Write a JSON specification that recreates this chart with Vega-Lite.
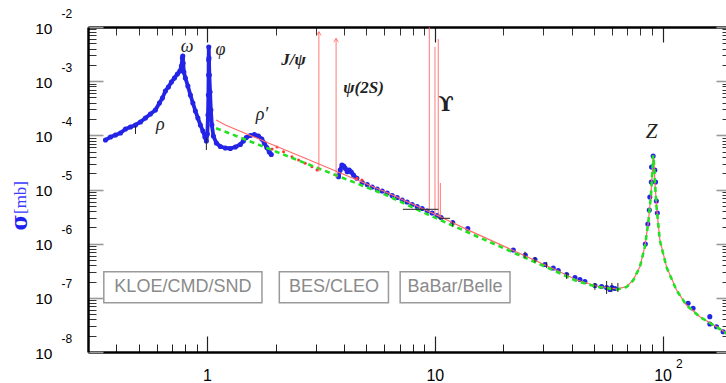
{
"$schema": "https://vega.github.io/schema/vega-lite/v6.json",
"width": 638, "height": 325,
"autosize": {"type": "none"},
"padding": {"left": 88, "top": 27, "right": 0, "bottom": 31},
"background": "white",
"config": {"view": {"stroke": null}, "axis": {"grid": false, "labelOverlap": false, "labelFlush": false}},
"datasets": {
"fit": [
{"E":1.095,"s":1.919e-4},{"E":1.203,"s":1.552e-4},{"E":1.802,"s":7.63e-5},{"E":2.698,"s":3.77e-5},{"E":4.043,"s":1.853e-5},{"E":6.053,"s":9.11e-6},{"E":9.537,"s":3.84e-6},{"E":14.28,"s":1.72e-6},{"E":22.12,"s":7.48e-7},{"E":34.28,"s":3.24e-7},{"E":41.96,"s":2.135e-7},{"E":51.34,"s":1.655e-7},{"E":62.84,"s":1.457e-7},{"E":69.53,"s":1.606e-7},{"E":74.31,"s":2.135e-7},{"E":79.51,"s":3.76e-7},{"E":83.62,"s":8.8e-7},{"E":86.48,"s":2.38e-6},{"E":88.86,"s":7.37e-6},{"E":90.22,"s":2.1e-5},{"E":90.95,"s":4.34e-5},{"E":91.88,"s":2.84e-5},{"E":92.52,"s":1.5e-5},{"E":94.13,"s":4.82e-6},{"E":97.32,"s":1.169e-6},{"E":104.1,"s":3.76e-7},{"E":115.2,"s":1.396e-7},{"E":127.4,"s":7.38e-8},{"E":145.8,"s":4.49e-8},{"E":172.6,"s":2.93e-8},{"E":199.3,"s":1.98e-8}],
"naive": [
{"E":1.095,"s":1.349e-4},{"E":1.203,"s":1.167e-4},{"E":1.802,"s":5.99e-5},{"E":2.698,"s":3.07e-5},{"E":4.043,"s":1.57e-5},{"E":6.053,"s":8.05e-6},{"E":9.537,"s":3.31e-6},{"E":14.28,"s":1.554e-6},{"E":22.12,"s":6.87e-7},{"E":34.28,"s":3.03e-7},{"E":41.96,"s":2.05e-7},{"E":51.34,"s":1.6e-7},{"E":62.84,"s":1.42e-7},{"E":69.53,"s":1.58e-7},{"E":74.31,"s":2.1e-7},{"E":79.51,"s":3.7e-7},{"E":83.62,"s":8.7e-7},{"E":86.48,"s":2.35e-6},{"E":88.86,"s":7.3e-6},{"E":90.22,"s":2.08e-5},{"E":90.95,"s":4.3e-5},{"E":91.88,"s":2.8e-5},{"E":92.52,"s":1.48e-5},{"E":94.13,"s":4.75e-6},{"E":97.32,"s":1.15e-6},{"E":104.1,"s":3.7e-7},{"E":115.2,"s":1.38e-7},{"E":127.4,"s":7.3e-8},{"E":145.8,"s":4.45e-8},{"E":172.6,"s":2.9e-8},{"E":199.3,"s":1.96e-8}],
"reddots": [
{"E":1.93,"s":5.6e-5},{"E":2.028,"s":6.09e-5},{"E":2.167,"s":4.99e-5},{"E":2.36,"s":4.03e-5},{"E":2.522,"s":3.51e-5},{"E":2.698,"s":3.05e-5},{"E":2.887,"s":2.64e-5},{"E":3.038,"s":2.29e-5},{"E":4.549,"s":1.61e-5},{"E":4.784,"s":1.5e-5}],
"blue": [
{"E":0.358,"s":8.2e-5,"seg":"lo"},{"E":0.3765,"s":9.32e-5,"seg":"lo"},{"E":0.396,"s":1.015e-4,"seg":"lo"},{"E":0.4167,"s":1.104e-4,"seg":"lo"},{"E":0.4383,"s":1.31e-4,"seg":"lo"},{"E":0.4609,"s":1.426e-4,"seg":"lo"},{"E":0.4849,"s":1.552e-4,"seg":"lo"},{"E":0.5099,"s":1.763e-4,"seg":"lo"},{"E":0.5362,"s":2.09e-4,"seg":"lo"},{"E":0.564,"s":2.477e-4,"seg":"lo"},{"E":0.5932,"s":2.936e-4,"seg":"lo"},{"E":0.6177,"s":3.954e-4,"seg":"lo"},{"E":0.6366,"s":4.89e-4,"seg":"lo"},{"E":0.6562,"s":6.59e-4,"seg":"lo"},{"E":0.6764,"s":7.81e-4,"seg":"lo"},{"E":0.6972,"s":9.65e-4,"seg":"lo"},{"E":0.719,"s":1.145e-3,"seg":"lo"},{"E":0.7409,"s":1.357e-3,"seg":"lo"},{"E":0.7598,"s":1.541e-3,"seg":"lo"},{"E":0.7715,"s":1.906e-3,"seg":"lo"},{"E":0.7792,"s":2.677e-3,"seg":"lo"},{"E":0.7823,"s":2.915e-3,"seg":"lo"},{"E":0.7854,"s":2.165e-3,"seg":"lo"},{"E":0.791,"s":1.477e-3,"seg":"lo"},{"E":0.803,"s":1.145e-3,"seg":"lo"},{"E":0.8237,"s":8.14e-4,"seg":"lo"},{"E":0.8448,"s":5.56e-4,"seg":"lo"},{"E":0.8664,"s":3.954e-4,"seg":"lo"},{"E":0.8886,"s":2.815e-4,"seg":"lo"},{"E":0.9113,"s":2.09e-4,"seg":"lo"},{"E":0.9346,"s":1.552e-4,"seg":"lo"},{"E":0.9585,"s":1.203e-4,"seg":"lo"},{"E":0.978,"s":9.32e-5,"seg":"lo"},{"E":0.9929,"s":7.86e-5,"seg":"lo"},{"E":1.003,"s":1.059e-4,"seg":"lo"},{"E":1.0091,"s":2.374e-4,"seg":"lo"},{"E":1.0132,"s":5.56e-4,"seg":"lo"},{"E":1.0153,"s":1.3e-3,"seg":"lo"},{"E":1.0163,"s":2.459e-3,"seg":"lo"},{"E":1.0173,"s":4.27e-3,"seg":"lo"},{"E":1.0194,"s":2.677e-3,"seg":"lo"},{"E":1.0235,"s":1.3e-3,"seg":"lo"},{"E":1.0308,"s":6.31e-4,"seg":"lo"},{"E":1.0391,"s":2.936e-4,"seg":"lo"},{"E":1.0497,"s":1.552e-4,"seg":"lo"},{"E":1.0657,"s":9.72e-5,"seg":"lo"},{"E":1.0985,"s":7.22e-5,"seg":"lo"},{"E":1.1437,"s":6.22e-5,"seg":"lo"},{"E":1.203,"s":5.84e-5,"seg":"lo"},{"E":1.2653,"s":5.72e-5,"seg":"lo"},{"E":1.3309,"s":6.09e-5,"seg":"lo"},{"E":1.3997,"s":6.78e-5,"seg":"lo"},{"E":1.443,"s":7.86e-5,"seg":"lo"},{"E":1.487,"s":9.12e-5,"seg":"lo"},{"E":1.5486,"s":9.93e-5,"seg":"lo"},{"E":1.6125,"s":1.036e-4,"seg":"lo"},{"E":1.679,"s":9.72e-5,"seg":"lo"},{"E":1.7395,"s":8.56e-5,"seg":"lo"},{"E":1.7836,"s":7.22e-5,"seg":"lo"},{"E":1.829,"s":5.97e-5,"seg":"lo"},{"E":1.8757,"s":4.93e-5,"seg":"lo"},{"E":1.9143,"s":4.43e-5,"seg":"lo"},
{"E":3.778,"s":1.724e-5,"seg":"psi"},{"E":3.843,"s":2.29e-5,"seg":"psi"},{"E":3.91,"s":2.84e-5,"seg":"psi"},{"E":3.981,"s":2.72e-5,"seg":"psi"},{"E":4.043,"s":2.46e-5,"seg":"psi"},{"E":4.125,"s":2.13e-5,"seg":"psi"},{"E":4.209,"s":2.29e-5,"seg":"psi"},{"E":4.295,"s":2.105e-5,"seg":"psi"},{"E":4.395,"s":1.853e-5,"seg":"psi"},{"E":4.549,"s":1.61e-5,"seg":"psi"},
{"E":4.799,"s":1.347e-5,"seg":"hi"},{"E":5.048,"s":1.238e-5,"seg":"hi"},{"E":5.309,"s":1.113e-5,"seg":"hi"},{"E":5.583,"s":1.022e-5,"seg":"hi"},{"E":5.873,"s":9.39e-6,"seg":"hi"},{"E":6.177,"s":8.62e-6,"seg":"hi"},{"E":6.496,"s":7.75e-6,"seg":"hi"},{"E":6.834,"s":7.12e-6,"seg":"hi"},{"E":7.188,"s":6.4e-6,"seg":"hi"},{"E":7.557,"s":5.88e-6,"seg":"hi"},{"E":7.952,"s":5.29e-6,"seg":"hi"},{"E":8.364,"s":4.86e-6,"seg":"hi"},{"E":8.797,"s":4.46e-6,"seg":"hi"},{"E":9.253,"s":4.01e-6,"seg":"hi"},{"E":9.732,"s":3.68e-6,"seg":"hi"},{"E":10.23,"s":3.31e-6,"seg":"hi"},{"E":10.66,"s":3.04e-6,"seg":"hi"},{"E":11.99,"s":2.46e-6,"seg":"hi"},{"E":13.96,"s":1.907e-6,"seg":"hi"},{"E":22.12,"s":7.64e-7,"seg":"hi"},{"E":24.97,"s":6.18e-7,"seg":"hi"},{"E":27.54,"s":5.11e-7,"seg":"hi"},{"E":30.46,"s":4.13e-7,"seg":"hi"},{"E":33.13,"s":3.56e-7,"seg":"hi"},{"E":34.84,"s":3.2e-7,"seg":"hi"},{"E":37.93,"s":2.7e-7,"seg":"hi"},{"E":41.26,"s":2.375e-7,"seg":"hi"},{"E":43.39,"s":2.18e-7,"seg":"hi"},{"E":45.62,"s":2.0e-7,"seg":"hi"},{"E":50.48,"s":1.69e-7,"seg":"hi"},{"E":54.01,"s":1.62e-7,"seg":"hi"},{"E":56.81,"s":1.553e-7,"seg":"hi"},{"E":58.74,"s":1.426e-7,"seg":"hi"},{"E":59.93,"s":1.553e-7,"seg":"hi"},{"E":61.77,"s":1.488e-7,"seg":"hi"},
{"E":84.05,"s":9.87e-7,"seg":"hi"},{"E":86.19,"s":2.31e-6,"seg":"hi"},{"E":87.5,"s":4.19e-6,"seg":"hi"},{"E":87.94,"s":7.27e-6,"seg":"hi"},{"E":89.29,"s":1.377e-5,"seg":"hi"},{"E":89.47,"s":2.6e-5,"seg":"hi"},{"E":90.96,"s":4.16e-5,"seg":"hi"},{"E":92.52,"s":2.29e-5,"seg":"hi"},{"E":93.19,"s":1.377e-5,"seg":"hi"},{"E":93.94,"s":6.14e-6,"seg":"hi"},{"E":94.89,"s":3.68e-6,"seg":"hi"},{"E":129.5,"s":7.93e-8,"seg":"hi"},{"E":136.2,"s":6.41e-8,"seg":"hi"},{"E":161.3,"s":4.49e-8,"seg":"hi"},{"E":161.3,"s":3.29e-8,"seg":"hi"},{"E":172.6,"s":2.93e-8,"seg":"hi"},{"E":184.5,"s":2.37e-8,"seg":"hi"}],
"res": [
{"name":"J/psi","E":3.097,"top":8.19e-3,"bottom":2.13e-5},
{"name":"psi2S","E":3.686,"top":6.18e-3,"bottom":1.63e-5},
{"name":"Y1S","E":9.46,"top":1e-2,"bottom":4.19e-6},
{"name":"Y2S","E":10.02,"top":4.33e-3,"bottom":3.68e-6},
{"name":"Y3S","E":10.355,"top":6.0e-3,"bottom":3.24e-6},
{"name":"Y4S","E":10.58,"top":1.32e-5,"bottom":3.0e-6}],
"xerr": [{"E1":7.24,"E2":10.37,"s":4.31e-6},{"E1":10.37,"E2":11.67,"s":2.94e-6}],
"yerr": [
{"E":0.4849,"s1":1.49e-4,"s2":1.06e-4},{"E":0.993,"s1":8.93e-5,"s2":5.36e-5},{"E":11.99,"s1":2.55e-6,"s2":2.06e-6},{"E":24.89,"s1":7.11e-7,"s2":5.37e-7},{"E":27.54,"s1":5.68e-7,"s2":4.49e-7},{"E":30.98,"s1":4.59e-7,"s2":3.56e-7},{"E":37.93,"s1":2.88e-7,"s2":2.23e-7},{"E":50.48,"s1":1.88e-7,"s2":1.4e-7},{"E":56.81,"s1":2.05e-7,"s2":1.18e-7},{"E":59.93,"s1":1.88e-7,"s2":1.28e-7},{"E":63.68,"s1":1.88e-7,"s2":1.28e-7}],
"labels": [
{"E":0.624,"s":1.552e-4,"t":"ρ"},{"E":0.817,"s":4.33e-3,"t":"ω"},{"E":1.144,"s":3.76e-3,"t":"φ"},{"E":1.742,"s":2.37e-4,"t":"ρ′"},{"E":2.398,"s":2.46e-3,"t":"J/ψ"},{"E":4.862,"s":7.38e-4,"t":"ψ(2S)"},{"E":11.21,"s":3.63e-4,"t":"ϒ"},{"E":89.47,"s":1.167e-4,"t":"Z"}],
"boxes": [
{"E1":0.352,"E2":1.742,"s1":3.04e-7,"s2":8.14e-8,"Ec":0.783,"sc":1.585e-7,"t":"KLOE/CMD/SND"},
{"E1":2.076,"E2":6.259,"s1":3.04e-7,"s2":8.14e-8,"Ec":3.606,"sc":1.585e-7,"t":"BES/CLEO"},
{"E1":7.044,"E2":21.39,"s1":3.04e-7,"s2":8.14e-8,"Ec":12.27,"sc":1.585e-7,"t":"BaBar/Belle"}]
},
"resolve": {"scale": {"x": "shared", "y": "shared"}, "axis": {"x": "independent", "y": "independent"}},
"layer": [
{"data": {"name": "blue"}, "transform": [{"filter": "datum.seg != 'hi'"}],
 "mark": {"type": "line", "color": "#2424e6", "strokeWidth": 3.8, "strokeCap": "round", "strokeJoin": "round", "clip": true},
 "encoding": {
  "x": {"field": "E", "type": "quantitative", "scale": {"type": "log", "domain": [0.3, 190], "nice": false},
        "axis": {"orient": "bottom", "offset": -16, "values": [1, 10, 100], "labels": false, "tickSize": 16, "tickColor": "#222", "tickWidth": 1.2, "domain": false, "title": null}},
  "y": {"field": "s", "type": "quantitative", "scale": {"type": "log", "domain": [1e-8, 1e-2], "nice": false},
        "axis": {"orient": "left", "offset": -15, "values": [1e-8, 1e-7, 1e-6, 1e-5, 1e-4, 1e-3, 1e-2], "labels": false, "tickSize": 15, "tickColor": "#999", "tickWidth": 1.6, "domain": false, "title": null}},
  "detail": {"field": "seg"}}},
{"data": {"name": "blue"},
 "mark": {"type": "point", "filled": true, "color": "#2424e6", "size": 26, "opacity": 1, "clip": true},
 "encoding": {
  "x": {"field": "E", "type": "quantitative", "scale": {"type": "log", "domain": [0.3, 190], "nice": false},
        "axis": {"orient": "bottom", "offset": -8, "values": [0.4,0.5,0.6,0.7,0.8,0.9,2,3,4,5,6,7,8,9,20,30,40,50,60,70,80,90], "labels": false, "tickSize": 8, "tickColor": "#222", "tickWidth": 1, "domain": false, "title": null}},
  "y": {"field": "s", "type": "quantitative", "scale": {"type": "log", "domain": [1e-8, 1e-2], "nice": false},
        "axis": {"orient": "left", "offset": -8, "values": [2e-8,3e-8,4e-8,5e-8,6e-8,7e-8,8e-8,9e-8,2e-7,3e-7,4e-7,5e-7,6e-7,7e-7,8e-7,9e-7,2e-6,3e-6,4e-6,5e-6,6e-6,7e-6,8e-6,9e-6,2e-5,3e-5,4e-5,5e-5,6e-5,7e-5,8e-5,9e-5,2e-4,3e-4,4e-4,5e-4,6e-4,7e-4,8e-4,9e-4,2e-3,3e-3,4e-3,5e-3,6e-3,7e-3,8e-3,9e-3], "labels": false, "tickSize": 8, "tickColor": "#333", "tickWidth": 1, "domain": false, "title": null}}}},
{"data": {"name": "reddots"},
 "mark": {"type": "point", "filled": true, "color": "#ff3030", "size": 9, "opacity": 1},
 "encoding": {
  "x": {"field": "E", "type": "quantitative", "scale": {"type": "log", "domain": [0.3, 190], "nice": false},
        "axis": {"orient": "bottom", "values": [1, 10, 100], "labelExpr": "datum.value >= 10 ? '10' : '1'", "ticks": false, "domain": true, "domainColor": "#000", "domainWidth": 2.5, "labelPadding": 15, "labelFont": "Liberation Sans", "labelFontSize": 16, "labelColor": "#000", "title": null}},
  "y": {"field": "s", "type": "quantitative", "scale": {"type": "log", "domain": [1e-8, 1e-2], "nice": false},
        "axis": {"orient": "left", "values": [1e-8, 1e-7, 1e-6, 1e-5, 1e-4, 1e-3, 1e-2], "labelExpr": "'10'", "ticks": false, "domain": true, "domainColor": "#000", "domainWidth": 2.5, "labelPadding": 36, "labelOffset": 1, "labelFont": "Liberation Sans", "labelFontSize": 15.5, "labelColor": "#000", "labelBaseline": "middle",
                 "title": "[mb]", "titleFont": "Liberation Serif", "titleFontSize": 17, "titleFontWeight": "normal", "titleColor": "#3b3bff", "titleAngle": 270, "titleX": -68, "titleY": 170, "titleAlign": "center", "titleBaseline": "middle"}}}},
{"data": {"name": "fit"},
 "mark": {"type": "line", "color": "#ff6b6b", "strokeWidth": 1.2, "clip": true},
 "encoding": {
  "x": {"field": "E", "type": "quantitative", "scale": {"type": "log", "domain": [0.3, 190], "nice": false},
        "axis": {"orient": "top", "offset": -15, "values": [1, 10, 100], "labels": false, "tickSize": 15, "tickColor": "#222", "tickWidth": 1.2, "domain": false, "title": null}},
  "y": {"field": "s", "type": "quantitative", "scale": {"type": "log", "domain": [1e-8, 1e-2], "nice": false},
        "axis": {"orient": "right", "offset": -10, "values": [1e-8, 1e-7, 1e-6, 1e-5, 1e-4, 1e-3, 1e-2], "labels": false, "tickSize": 10, "tickColor": "#999", "tickWidth": 1.6, "domain": false, "title": null}}}},
{"data": {"name": "naive"},
 "mark": {"type": "line", "color": "#22e022", "strokeWidth": 2.6, "strokeDash": [5, 4], "clip": true},
 "encoding": {
  "x": {"field": "E", "type": "quantitative", "scale": {"type": "log", "domain": [0.3, 190], "nice": false},
        "axis": {"orient": "top", "offset": -8, "values": [0.4,0.5,0.6,0.7,0.8,0.9,2,3,4,5,6,7,8,9,20,30,40,50,60,70,80,90], "labels": false, "tickSize": 8, "tickColor": "#333", "tickWidth": 1, "domain": false, "title": null}},
  "y": {"field": "s", "type": "quantitative", "scale": {"type": "log", "domain": [1e-8, 1e-2], "nice": false},
        "axis": {"orient": "right", "offset": -4, "values": [2e-8,3e-8,4e-8,5e-8,6e-8,7e-8,8e-8,9e-8,2e-7,3e-7,4e-7,5e-7,6e-7,7e-7,8e-7,9e-7,2e-6,3e-6,4e-6,5e-6,6e-6,7e-6,8e-6,9e-6,2e-5,3e-5,4e-5,5e-5,6e-5,7e-5,8e-5,9e-5,2e-4,3e-4,4e-4,5e-4,6e-4,7e-4,8e-4,9e-4,2e-3,3e-3,4e-3,5e-3,6e-3,7e-3,8e-3,9e-3], "labels": false, "tickSize": 4, "tickColor": "#333", "tickWidth": 1, "domain": false, "title": null}}}},
{"data": {"name": "res"},
 "mark": {"type": "rule", "color": "#ff6060", "strokeWidth": 1, "opacity": 0.85, "clip": true},
 "encoding": {
  "x": {"field": "E", "type": "quantitative", "scale": {"type": "log", "domain": [0.3, 190], "nice": false},
        "axis": {"orient": "bottom", "values": [100], "labelExpr": "'2'", "ticks": false, "domain": false, "labelAlign": "left", "labelOffset": 13, "labelPadding": 6, "labelFont": "Liberation Sans", "labelFontSize": 12, "labelColor": "#000", "title": null}},
  "y": {"field": "top", "type": "quantitative", "scale": {"type": "log", "domain": [1e-8, 1e-2], "nice": false},
        "axis": {"orient": "left", "values": [1e-8, 1e-7, 1e-6, 1e-5, 1e-4, 1e-3, 1e-2], "labelExpr": "'' + round(log(datum.value) / LN10)", "ticks": false, "domain": false, "labelAlign": "left", "labelPadding": 27, "labelOffset": -14, "labelBaseline": "middle", "labelFont": "Liberation Sans", "labelFontSize": 12, "labelColor": "#000",
                 "title": "σ", "titleFont": "DejaVu Serif", "titleFontSize": 22, "titleFontWeight": "bold", "titleColor": "#2020f0", "titleAngle": 270, "titleX": -69, "titleY": 195, "titleAlign": "center", "titleBaseline": "middle"}},
  "y2": {"field": "bottom"}}},
{"data": {"name": "res"}, "transform": [{"filter": "datum.name == 'J/psi' || datum.name == 'psi2S'"}],
 "mark": {"type": "point", "shape": "M-0.6,1L0,0L0.6,1", "filled": false, "color": "#ff5050", "strokeWidth": 1, "size": 60},
 "encoding": {
  "x": {"field": "E", "type": "quantitative",
        "axis": {"orient": "top", "labels": false, "ticks": false, "domain": true, "domainColor": "#000", "domainWidth": 2.5, "title": null}},
  "y": {"field": "top", "type": "quantitative", "axis": null}}},
{"data": {"name": "xerr"},
 "mark": {"type": "rule", "color": "#222", "strokeWidth": 1},
 "encoding": {
  "x": {"field": "E1", "type": "quantitative", "axis": null},
  "x2": {"field": "E2"},
  "y": {"field": "s", "type": "quantitative", "axis": null}}},
{"data": {"name": "yerr"},
 "mark": {"type": "rule", "color": "#222", "strokeWidth": 1},
 "encoding": {
  "x": {"field": "E", "type": "quantitative", "axis": null},
  "y": {"field": "s1", "type": "quantitative", "axis": null},
  "y2": {"field": "s2"}}},
{"data": {"name": "labels"}, "transform": [{"filter": "indexof(['ρ','ω','φ','ρ′'], datum.t) >= 0"}],
 "mark": {"type": "text", "font": "Liberation Serif", "fontStyle": "italic", "fontSize": 18, "color": "#222", "align": "center", "baseline": "middle"},
 "encoding": {
  "x": {"field": "E", "type": "quantitative", "axis": null},
  "y": {"field": "s", "type": "quantitative", "axis": null},
  "text": {"field": "t"}}},
{"data": {"name": "labels"}, "transform": [{"filter": "datum.t == 'J/ψ' || datum.t == 'ψ(2S)'"}],
 "mark": {"type": "text", "font": "Liberation Serif", "fontStyle": "italic", "fontWeight": "bold", "fontSize": 17, "color": "#222", "align": "center", "baseline": "middle"},
 "encoding": {
  "x": {"field": "E", "type": "quantitative", "axis": null},
  "y": {"field": "s", "type": "quantitative", "axis": null},
  "text": {"field": "t"}}},
{"data": {"name": "labels"}, "transform": [{"filter": "datum.t == 'ϒ'"}],
 "mark": {"type": "text", "font": "DejaVu Serif", "fontWeight": "bold", "fontSize": 20, "color": "#222", "align": "center", "baseline": "middle"},
 "encoding": {
  "x": {"field": "E", "type": "quantitative", "axis": null},
  "y": {"field": "s", "type": "quantitative", "axis": null},
  "text": {"field": "t"}}},
{"data": {"name": "labels"}, "transform": [{"filter": "datum.t == 'Z'"}],
 "mark": {"type": "text", "font": "Liberation Serif", "fontStyle": "italic", "fontSize": 21, "color": "#222", "align": "center", "baseline": "middle"},
 "encoding": {
  "x": {"field": "E", "type": "quantitative", "axis": null},
  "y": {"field": "s", "type": "quantitative", "axis": null},
  "text": {"field": "t"}}},
{"data": {"name": "boxes"},
 "mark": {"type": "rect", "filled": false, "stroke": "#9a9a9a", "strokeWidth": 1.5},
 "encoding": {
  "x": {"field": "E1", "type": "quantitative", "axis": null},
  "x2": {"field": "E2"},
  "y": {"field": "s1", "type": "quantitative", "axis": null},
  "y2": {"field": "s2"}}},
{"data": {"name": "boxes"},
 "mark": {"type": "text", "font": "Liberation Sans", "fontSize": 18, "color": "#8a8a8a", "align": "center", "baseline": "middle"},
 "encoding": {
  "x": {"field": "Ec", "type": "quantitative", "axis": null},
  "y": {"field": "sc", "type": "quantitative", "axis": null},
  "text": {"field": "t"}}}
]
}
